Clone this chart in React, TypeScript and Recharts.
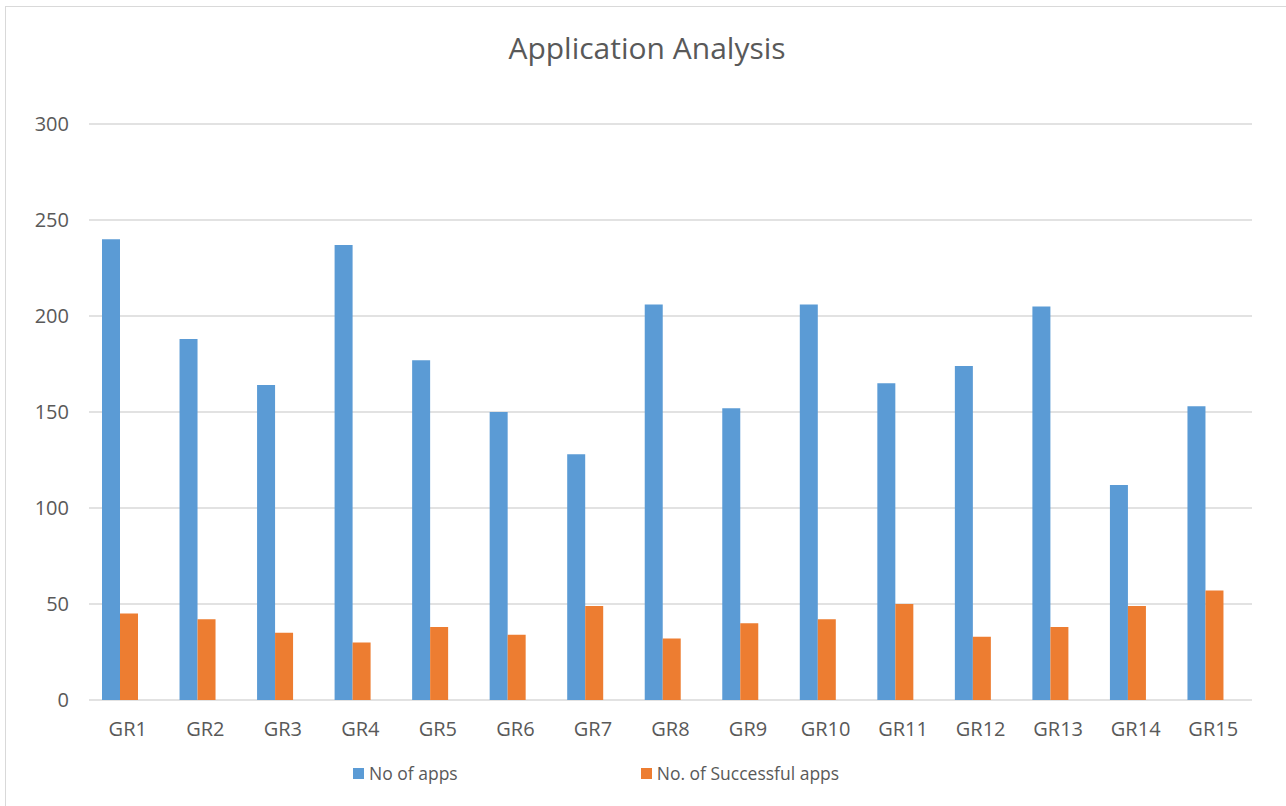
import React from "react";
import {
  BarChart,
  Bar,
  XAxis,
  YAxis,
  CartesianGrid,
} from "recharts";

const groups = [
  "GR1", "GR2", "GR3", "GR4", "GR5", "GR6", "GR7", "GR8",
  "GR9", "GR10", "GR11", "GR12", "GR13", "GR14", "GR15",
];

const appCounts = [240, 188, 164, 237, 177, 150, 128, 206, 152, 206, 165, 174, 205, 112, 153];

const successfulCounts = [45, 42, 35, 30, 38, 34, 49, 32, 40, 42, 50, 33, 38, 49, 57];

const yTicks = [0, 50, 100, 150, 200, 250, 300];

const BLUE = "#5B9BD5";
const ORANGE = "#ED7D31";
const TEXT = "#595959";
const GRID = "#D9D9D9";
const FONT = "'Open Sans', sans-serif";

const data = groups.map((name, i) => ({
  name,
  apps: appCounts[i],
  successful: successfulCounts[i],
}));

const legendItems = [
  { label: "No of apps", color: BLUE },
  { label: "No. of Successful apps", color: ORANGE },
];

export default function App() {
  return (
    <div
      style={{
        position: "absolute",
        left: 0,
        top: 0,
        width: 1286,
        height: 806,
        overflow: "hidden",
        background: "#fff",
        fontFamily: FONT,
      }}
    >
      {/* chart frame: only top and left edges fall inside the page */}
      <div
        style={{
          position: "absolute",
          left: 5,
          top: 6,
          width: 1300,
          height: 820,
          border: `1px solid ${GRID}`,
          boxSizing: "border-box",
        }}
      />
      <div
        style={{
          position: "absolute",
          top: 27,
          left: 0,
          width: 1294,
          textAlign: "center",
          fontSize: 30,
          color: TEXT,
          lineHeight: "42px",
        }}
      >
        Application Analysis
      </div>
      <div style={{ position: "absolute", left: 0, top: 0 }}>
        <BarChart
          width={1286}
          height={806}
          data={data}
          margin={{ top: 124, right: 42, bottom: 66, left: 0 }}
          barSize={18}
          barGap={0}
        >
          <CartesianGrid
            vertical={false}
            stroke={GRID}
            strokeWidth={1.5}
            x={89}
            width={1163}
          />
          <XAxis
            dataKey="name"
            height={40}
            axisLine={false}
            tickLine={false}
            tickSize={0}
            tickMargin={22}
            dx={8}
            interval={0}
            tick={{ fill: TEXT, fontSize: 20, fontFamily: FONT }}
          />
          <YAxis
            width={81}
            domain={[0, 300]}
            ticks={yTicks}
            axisLine={false}
            tickLine={false}
            tickSize={0}
            tickMargin={12}
            tick={{ fill: TEXT, fontSize: 20, fontFamily: FONT }}
          />
          <Bar dataKey="apps" name="No of apps" fill={BLUE} isAnimationActive={false} />
          <Bar
            dataKey="successful"
            name="No. of Successful apps"
            fill={ORANGE}
            isAnimationActive={false}
          />
        </BarChart>
      </div>
      <div
        style={{
          position: "absolute",
          top: 760,
          left: 353,
          display: "flex",
          alignItems: "center",
          fontSize: 17.5,
          color: TEXT,
          lineHeight: "26px",
        }}
      >
        {legendItems.map((item, i) => (
          <div
            key={item.label}
            style={{
              display: "flex",
              alignItems: "center",
              marginRight: i === 0 ? 183 : 0,
            }}
          >
            <span
              style={{
                display: "inline-block",
                width: 11,
                height: 11,
                background: item.color,
                marginRight: 5,
              }}
            />
            {item.label}
          </div>
        ))}
      </div>
    </div>
  );
}
